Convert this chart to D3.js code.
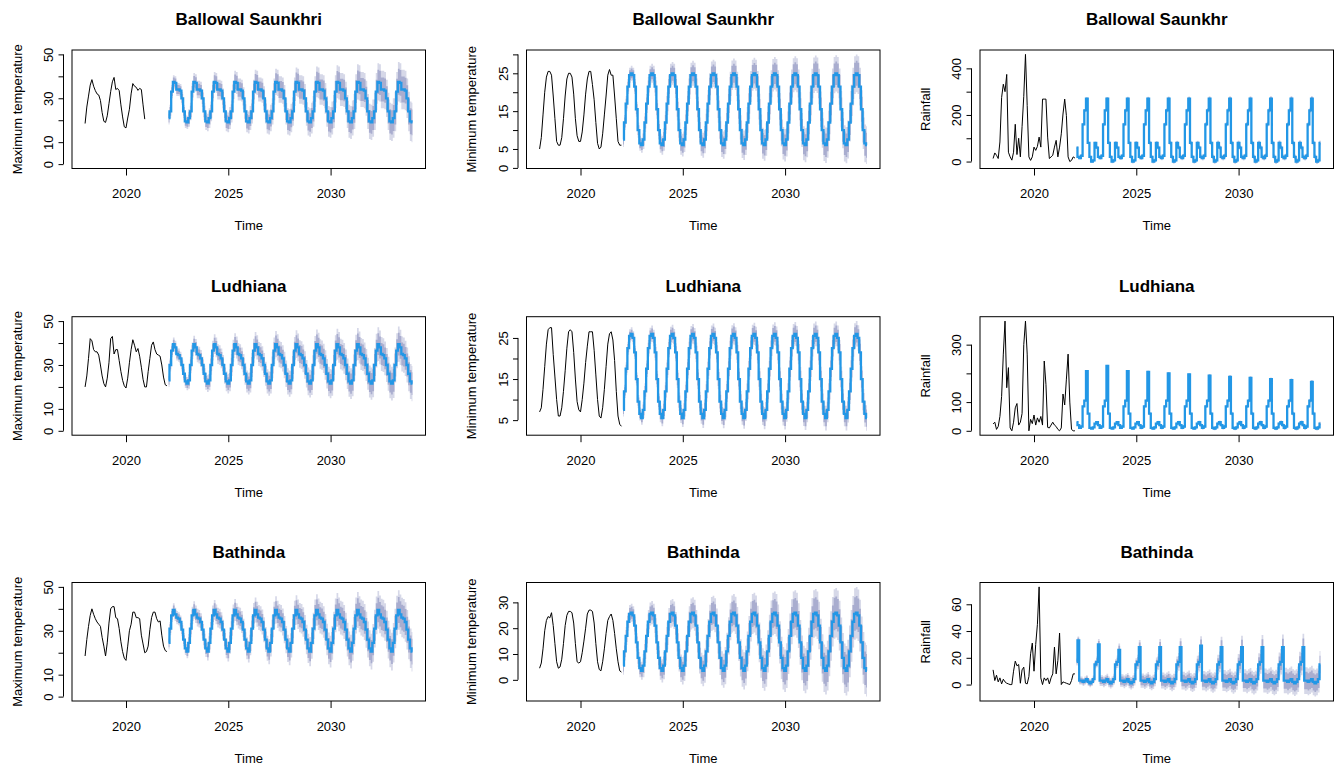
<!DOCTYPE html>
<html>
<head>
<meta charset="utf-8">
<script src="https://cdn.jsdelivr.net/npm/d3@7"></script>
<style>
  body { margin: 0; background: #fff; }
  svg text { font-family: "Liberation Sans", Arial, sans-serif; fill: #000; }
</style>
</head>
<body>
<script>
// ---- time frame (monthly series) ----
var histStart = 2018;          // Jan 2018 .. Jan 2022
var fcStart = 2022 + 1 / 12;   // Feb 2022 .. Jan 2034
var fcYears = 12;
var xTicks = [2020, 2025, 2030];

// ---- observed series, one value per month ----
var bsMaxHist = [18.5, 26, 31, 36, 38.5, 35.5, 33.5, 32, 31.5, 29, 23.5, 19.5,
  19, 22, 27.5, 33, 37.5, 39.5, 34, 34.5, 33.5, 27, 21.5, 17,
  16.5, 21, 25, 32, 36.7, 35.5, 35, 33.6, 34.5, 34, 27, 20.5,
  null, null, null, null, null, null, null, null, null, null, null, null, null];
var bsMinHist = [5, 8, 14, 20, 24, 25.5, 25.5, 24.5, 19, 13, 7, 6,
  6, 8, 13, 19, 23.5, 25, 25, 24, 19.5, 13, 8.5, 7,
  7, 9.5, 14, 19.5, 23.5, 25.5, 25.5, 22, 18, 12, 6.5, 5,
  5.5, 9, 14, 19, 24.5, 26, 24.5, 24.5, 19, 13, 7, 6, 6];
var bsRainHist = [13, 37, 27, 13, 84, 275, 332, 300, 374, 40, 20, 6,
  40, 160, 30, 100, 20, 150, 280, 460, 240, 20, 5, 20,
  62, 48, 65, 105, 62, 268, 268, 268, 105, 13, 20, 27,
  62, 91, 20, 62, 119, 204, 268, 197, 20, 0, 5, 20, 15];
var ludMaxHist = [20, 25, 33, 42, 41, 37, 36, 36, 34.5, 30, 25, 21.5,
  20, 24, 31, 42, 43, 35, 37, 37, 32, 27, 23, 20.5,
  19.5, 24, 31, 37, 41.5, 39, 36, 37.5, 34, 29, 23.5, 20,
  20, 27, 33, 39, 40.5, 37, 35, 34.5, 34, 30, 24.5, 21, 20.5];
var ludMinHist = [7, 8, 12.5, 18, 23.5, 27, 27.5, 27.5, 21, 15.5, 10, 6,
  6, 8, 12, 17, 22.5, 26.5, 27, 26.5, 21.5, 15, 9.5, 7.5,
  7, 10, 14, 19, 23, 26.5, 26.5, 26.5, 22, 16, 10, 6,
  5.5, 8, 12.5, 18, 23.5, 26, 26.5, 24.5, 19.5, 12, 6, 4, 3.5];
var ludRainHist = [24, 30, 5, 15, 50, 120, 267, 382, 150, 220, 10, 0,
  30, 80, 95, 20, 30, 60, 300, 382, 267, 0, 40, 25,
  55, 20, 45, 30, 50, 20, 243, 162, 12, 10, 20, 30,
  20, 15, 5, 0, 10, 128, 90, 180, 267, 100, 5, 0, 0];
var batMaxHist = [18.5, 26, 32, 37, 40, 37.5, 35.5, 34, 33, 32, 27, 23,
  18.5, 24.5, 33.5, 40, 41, 41, 36, 35.5, 31, 25, 20.5, 17.5,
  16.5, 23, 30, 33, 38.5, 38.5, 36, 36, 35.5, 28, 24, 20,
  20.5, 23, 30.5, 36, 38.5, 38.5, 35.5, 34, 34.5, 28, 23, 21, 20.5];
var batMinHist = [4.5, 6.5, 12, 19, 23, 24.5, 24, 26, 21, 14, 7, 4.5,
  5, 8, 14, 21, 25, 26.5, 26.5, 26, 22, 14, 7, 6.5,
  7, 10.5, 15, 20, 25.5, 27, 27, 26.5, 22, 14, 7, 4,
  3.5, 7, 12, 18, 23, 24.5, 25.5, 23, 18, 12, 7, 3.5, 3];
var batRainHist = [11, 3, 7, 2, 5, 0.5, 4, 2, 1, 0.5, 0, 0,
  10, 17.5, 14, 15, 1, 11, 13, 1, 0.5, 6, 23, 31,
  10, 30, 45, 73, 5, 0, 5, 3, 5, 0.5, 5, 8,
  28, 8, 18, 38.5, 0, 2, 1.5, 1, 0.5, 0, 3, 8, 8];

// ---- forecast: seasonal point forecast by calendar month (Jan..Dec) ----
var bsMaxFc  = [19, 21, 24, 33, 37.5, 37, 34, 34, 33.5, 30, 24, 19.5];
var bsMinFc  = [6, 7.5, 12, 17, 21.5, 24.5, 25, 24.5, 21.5, 15.5, 10, 6.5];
var bsRainFc = [80, 60, 20, 15, 25, 160, 220, 270, 80, 20, 0, 5];
var ludMaxFc = [21.5, 23, 30, 36.5, 39.5, 38, 35, 34.5, 33, 30, 26, 22.5];
var ludMinFc = [5.5, 7.5, 12, 17.5, 22.5, 25.5, 26, 25, 21.5, 15, 9.5, 6.5];
var ludRainFc = [25, 30, 20, 10, 15, 85, 105, 205, 60, 10, 8, 12];
var batMaxFc = [20.5, 24.5, 31, 37, 39.5, 37.5, 36, 35.5, 34, 30.5, 26, 22];
var batMinFc = [3.5, 5.5, 11, 17, 22.5, 25.5, 26, 25, 21, 14.5, 8.5, 4.5];
var batRainFc = [15, 17, 28, 3, 3, 2, 3, 4, 2, 1, 2, 4];

// yearly peak of the rainfall forecasts (peak month per panel)
var ludRainPeaks = [208, 226, 208, 205, 200, 196, 192, 188, 184, 180, 176, 170];
var batRainPeaks = [33, 30, 26, 28, 28, 28, 29, 28, 28, 28, 28, 28];

// ---- half widths of the 80% / 95% intervals, per forecast year ----
var bsMaxW80 = [2, 2.6, 3, 3.3, 3.6, 3.9, 4.2, 4.6, 4.9, 5.2, 5.5, 5.9];
var bsMaxW95 = [3, 4, 4.5, 5, 5.5, 6, 6.5, 7, 7.5, 8, 8.5, 9];
var bsMinW80 = [1.3, 1.6, 2, 2.1, 2.3, 2.5, 2.7, 2.8, 2.9, 3.1, 3.1, 3.3];
var bsMinW95 = [2, 2.5, 3, 3.3, 3.6, 3.9, 4.1, 4.3, 4.5, 4.7, 4.8, 5];
var bsRainW80 = [4, 4.5, 5, 5, 6, 6, 6.5, 6.5, 6.5, 7, 7, 7];
var bsRainW95 = [6, 7, 8, 8, 9, 9, 10, 10, 10, 11, 11, 11];
var ludMaxW80 = [2, 2.5, 2.9, 3.3, 3.6, 3.9, 4.1, 4.4, 4.6, 4.8, 5, 5.2];
var ludMaxW95 = [3, 3.8, 4.5, 5, 5.5, 6, 6.3, 6.7, 7, 7.3, 7.7, 8];
var ludMinW80 = [1, 1.3, 1.5, 1.6, 1.7, 1.8, 1.9, 1.9, 2, 2, 2, 2.1];
var ludMinW95 = [1.6, 2, 2.2, 2.4, 2.5, 2.6, 2.7, 2.8, 2.9, 3, 3, 3.1];
var ludRainW80 = [2, 2.5, 2.5, 3, 3, 3, 4, 4, 4, 4, 4.5, 4.5];
var ludRainW95 = [3, 4, 4, 5, 5, 5, 6, 6, 6, 6, 7, 7];
var batMaxW80 = [2, 2.6, 3, 3.3, 3.7, 4, 4.4, 4.7, 5, 5.3, 5.6, 5.9];
var batMaxW95 = [3, 4, 4.5, 5, 5.7, 6.2, 6.7, 7.2, 7.7, 8.2, 8.6, 9];
var batMinW80 = [2.3, 2.9, 3.5, 3.9, 4.3, 4.7, 5, 5.3, 5.7, 6, 6.3, 6.5];
var batMinW95 = [3.5, 4.5, 5.3, 6, 6.6, 7.2, 7.7, 8.2, 8.7, 9.2, 9.6, 10];
var batRainW80 = [2, 2.6, 3.1, 3.5, 3.9, 4.3, 4.7, 5.1, 5.5, 5.9, 6.2, 6.5];
var batRainW95 = [3, 4, 4.7, 5.3, 6, 6.6, 7.2, 7.8, 8.4, 9, 9.5, 10];

// ---- y ticks and the labels R kept ----
var maxTicks = [0, 10, 20, 30, 40, 50], maxLabels = [0, 10, 30, 50];
var bsMinTicks = [0, 5, 10, 15, 20, 25, 30], bsMinLabels = [0, 5, 15, 25];
var ludMinTicks = [5, 10, 15, 20, 25], ludMinLabels = [5, 15, 25];
var batMinTicks = [0, 10, 20, 30], batMinLabels = [0, 10, 20, 30];
var bsRainTicks = [0, 100, 200, 300, 400], bsRainLabels = [0, 200, 400];
var ludRainTicks = [0, 100, 200, 300], ludRainLabels = [0, 100, 300];
var batRainTicks = [0, 20, 40, 60], batRainLabels = [0, 20, 40, 60];

var panels = [
  {row: 0, col: 0, title: "Ballowal Saunkhri", ylab: "Maximum temperature", hist: bsMaxHist, fc: bsMaxFc, w80: bsMaxW80, w95: bsMaxW95, ylim: [0, 50], ticks: maxTicks, labels: maxLabels},
  {row: 0, col: 1, title: "Ballowal Saunkhr", ylab: "Minimum temperature", hist: bsMinHist, fc: bsMinFc, w80: bsMinW80, w95: bsMinW95, ticks: bsMinTicks, labels: bsMinLabels},
  {row: 0, col: 2, title: "Ballowal Saunkhr", ylab: "Rainfall", hist: bsRainHist, fc: bsRainFc, w80: bsRainW80, w95: bsRainW95, ticks: bsRainTicks, labels: bsRainLabels},
  {row: 1, col: 0, title: "Ludhiana", ylab: "Maximum temperature", hist: ludMaxHist, fc: ludMaxFc, w80: ludMaxW80, w95: ludMaxW95, ylim: [0, 50], ticks: maxTicks, labels: maxLabels},
  {row: 1, col: 1, title: "Ludhiana", ylab: "Minimum temperature", hist: ludMinHist, fc: ludMinFc, w80: ludMinW80, w95: ludMinW95, ticks: ludMinTicks, labels: ludMinLabels},
  {row: 1, col: 2, title: "Ludhiana", ylab: "Rainfall", hist: ludRainHist, fc: ludRainFc, w80: ludRainW80, w95: ludRainW95, peaks: ludRainPeaks, peakMonth: 7, ticks: ludRainTicks, labels: ludRainLabels},
  {row: 2, col: 0, title: "Bathinda", ylab: "Maximum temperature", hist: batMaxHist, fc: batMaxFc, w80: batMaxW80, w95: batMaxW95, ylim: [0, 50], ticks: maxTicks, labels: maxLabels},
  {row: 2, col: 1, title: "Bathinda", ylab: "Minimum temperature", hist: batMinHist, fc: batMinFc, w80: batMinW80, w95: batMinW95, ticks: batMinTicks, labels: batMinLabels},
  {row: 2, col: 2, title: "Bathinda", ylab: "Rainfall", hist: batRainHist, fc: batRainFc, w80: batRainW80, w95: batRainW95, peaks: batRainPeaks, peakMonth: 2, ticks: batRainTicks, labels: batRainLabels}
];

// ---- layout ----
var colLeft = [72, 526.5, 980], rowTop = [50, 316.7, 582.5];
var boxW = 353.5, boxH = 118.5;

var svg = d3.select("body").append("svg")
    .attr("width", 1334)
    .attr("height", 768);

panels.forEach(function(p, k) {
  var g = svg.append("g")
      .attr("transform", "translate(" + colLeft[p.col] + "," + rowTop[p.row] + ")");

  var hist = p.hist.map(function(v, i) { return {t: histStart + i / 12, v: v}; });
  var fc = d3.range(fcYears * 12).map(function(j) {
    var m = (j + 1) % 12, yr = Math.floor(j / 12);
    var mean = (p.peaks && m === p.peakMonth) ? p.peaks[yr] : p.fc[m];
    return {t: fcStart + j / 12, mean: mean,
      lo80: mean - p.w80[yr], hi80: mean + p.w80[yr],
      lo95: mean - p.w95[yr], hi95: mean + p.w95[yr]};
  });

  // R style 4% extension of the data range
  var t0 = histStart, t1 = fc[fc.length - 1].t;
  var tPad = (t1 - t0) * 0.04;
  var x = d3.scaleLinear().domain([t0 - tPad, t1 + tPad]).range([0, boxW]);

  var yr = p.ylim;
  if (!yr) {
    var vals = p.hist.filter(function(v) { return v != null; })
      .concat(fc.map(function(d) { return d.lo95; }), fc.map(function(d) { return d.hi95; }));
    yr = d3.extent(vals);
  }
  var yPad = (yr[1] - yr[0]) * 0.04;
  var y = d3.scaleLinear().domain([yr[0] - yPad, yr[1] + yPad]).range([boxH, 0]);

  svg.append("clipPath").attr("id", "clip" + k)
    .append("rect").attr("width", boxW).attr("height", boxH)
      .attr("transform", "translate(" + colLeft[p.col] + "," + rowTop[p.row] + ")");
  var plot = svg.append("g").attr("clip-path", "url(#clip" + k + ")")
    .append("g")
      .attr("transform", "translate(" + colLeft[p.col] + "," + rowTop[p.row] + ")");

  // intervals
  plot.append("path").datum(fc)
    .attr("fill", "#D6D8E8")
    .attr("d", d3.area().curve(d3.curveStep).x(function(d) { return x(d.t); })
      .y0(function(d) { return y(d.lo95); }).y1(function(d) { return y(d.hi95); }));
  plot.append("path").datum(fc)
    .attr("fill", "#A9ADCF")
    .attr("d", d3.area().curve(d3.curveStep).x(function(d) { return x(d.t); })
      .y0(function(d) { return y(d.lo80); }).y1(function(d) { return y(d.hi80); }));

  // observed
  plot.append("path").datum(hist)
    .attr("fill", "none").attr("stroke", "#000").attr("stroke-width", 1)
    .attr("d", d3.line().defined(function(d) { return d.v != null; })
      .x(function(d) { return x(d.t); }).y(function(d) { return y(d.v); }));

  // point forecast
  plot.append("path").datum(fc)
    .attr("fill", "none").attr("stroke", "#2297E6").attr("stroke-width", 2.3)
    .attr("d", d3.line().curve(d3.curveStep)
      .x(function(d) { return x(d.t); }).y(function(d) { return y(d.mean); }));

  // box
  g.append("rect").attr("width", boxW).attr("height", boxH)
    .attr("fill", "none").attr("stroke", "#000").attr("stroke-width", 1);

  // x axis
  var xa = g.append("g").attr("transform", "translate(0," + boxH + ")")
    .call(d3.axisBottom(x).tickValues(xTicks).tickSize(7).tickFormat(d3.format("d")));
  xa.select(".domain").remove();
  xa.selectAll("line").attr("stroke", "#000");
  xa.selectAll("text").attr("y", 20.5).style("font-size", "13px")
    .style("font-family", "Liberation Sans, Arial, sans-serif").attr("fill", "#000");

  // y axis, offset from the box like the original
  var ya = g.append("g").attr("transform", "translate(-8.5,0)")
    .call(d3.axisLeft(y).tickValues(p.ticks).tickSize(5)
      .tickFormat(function(d) { return p.labels.indexOf(d) >= 0 ? d : ""; }));
  ya.select(".domain").remove();
  ya.append("line")
    .attr("x1", 0).attr("x2", 0)
    .attr("y1", y(p.ticks[0])).attr("y2", y(p.ticks[p.ticks.length - 1]))
    .attr("stroke", "#000");
  ya.selectAll("line").attr("stroke", "#000");
  ya.selectAll("text")
    .attr("transform", "rotate(-90)")
    .attr("x", 0).attr("y", -10.5).attr("dy", 0)
    .attr("text-anchor", "middle")
    .style("font-size", "13px")
    .style("font-family", "Liberation Sans, Arial, sans-serif")
    .attr("fill", "#000");

  // titles
  g.append("text")
    .attr("x", boxW / 2).attr("y", -25)
    .attr("text-anchor", "middle")
    .style("font-size", "17px").style("font-weight", "bold")
    .text(p.title);
  g.append("text")
    .attr("x", boxW / 2).attr("y", boxH + 61.5)
    .attr("text-anchor", "middle")
    .style("font-size", "13px")
    .text("Time");
  g.append("text")
    .attr("transform", "translate(-50.5," + boxH / 2 + ")rotate(-90)")
    .attr("text-anchor", "middle")
    .style("font-size", "13px")
    .text(p.ylab);
});
</script>
</body>
</html>
